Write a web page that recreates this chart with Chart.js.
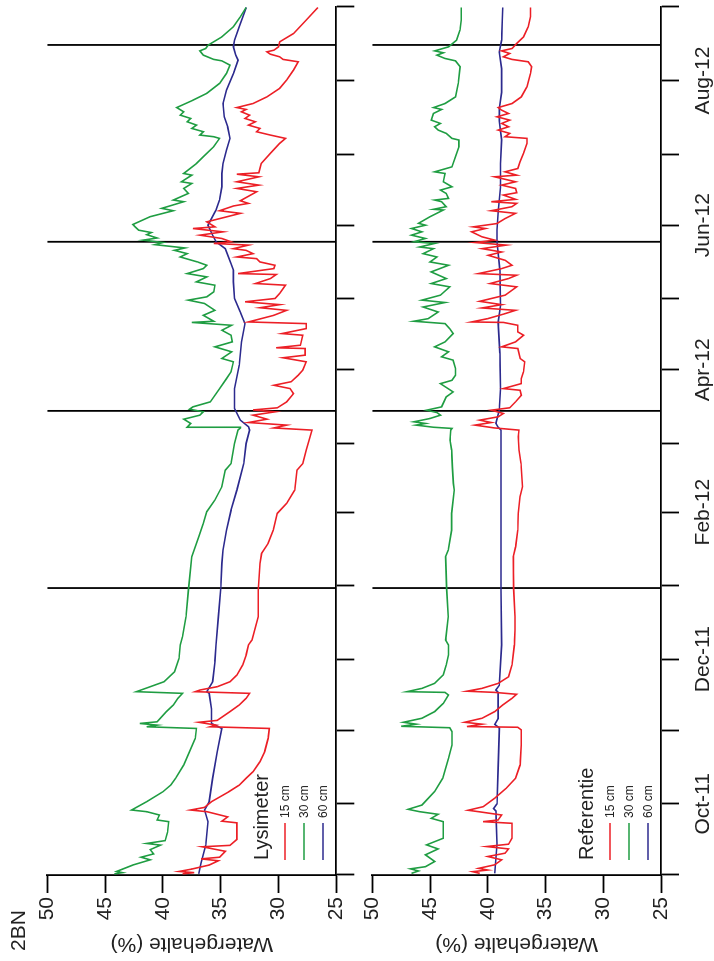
<!DOCTYPE html>
<html><head><meta charset="utf-8">
<script src="https://cdn.jsdelivr.net/npm/chart.js@4/dist/chart.umd.min.js"></script>
<style>
html,body{margin:0;padding:0;background:#fff;overflow:hidden;width:714px;height:961px;}
#rot{position:absolute;left:0;top:0;width:961px;height:714px;transform-origin:0 0;transform:translateY(961px) rotate(-90deg);background:#fff;}
#rot canvas{position:absolute;left:0;}
</style></head><body>
<div id="rot">
<canvas id="cA" width="961" height="355" style="top:0"></canvas>
<canvas id="cB" width="961" height="359" style="top:355px"></canvas>
</div>
<script>
// x values: days since 2011-09-01 ; y values: water content (%)
const MONTH_TICKS = [0,30,61,91,122,153,182,213,243,274,304,335,366];
const MONTH_LABELS = ['','Oct-11','','Dec-11','','Feb-12','','Apr-12','','Jun-12','','Aug-12',''];
const VALUE_TICKS = [50,45,40,35,30,25];
const MARKER_DAYS = [121,195.7,267,350];
const SERIES_LABELS = ['15 cm','30 cm','60 cm'];
const PANEL_TITLES = ['Lysimeter','Referentie'];

const LYS_15 = [[0.5,38.3],[1,37.3],[1.5,38.6],[2.5,37.5],[4.2,36.0],[6.0,35.2],[6.8,36.7],[7.5,35.1],[10.0,34.6],[11.9,36.6],[12.5,34.2],[15,33.6],[22,33.6],[22.7,34.9],[24.5,34.4],[26.7,36.2],[27.4,37.6],[28.5,36.4],[30.9,35.8],[35.1,34.3],[37.9,33.4],[40.8,32.8],[43.6,32.2],[47.8,31.6],[52,31.2],[57.6,30.9],[61.8,30.8],[62.5,35.9],[63.2,35.4],[64.4,36.9],[65.2,35.3],[68.9,34.2],[71.7,33.4],[74.5,32.8],[76.6,32.5],[77.3,37.2],[78,36.8],[79.4,35.3],[81.5,34.2],[84.3,33.6],[88.6,33.1],[92.8,32.8],[97,32.6],[99.1,32.3],[108.9,31.75],[120.1,31.75],[131.4,31.6],[135.6,31.46],[139.8,30.9],[145.4,30.45],[152.5,30.1],[156.7,29.3],[162.3,28.6],[170.7,28.4],[173.5,27.9],[179.2,27.6],[187.6,27.1],[188.5,30.4],[189.7,29.3],[190.8,32.6],[192.2,31.0],[193.9,32.2],[195.3,30.3],[196.1,32.2],[197,30.1],[199.5,29.3],[203,28.7],[205.1,29.0],[206.5,30.4],[208,28.9],[210.7,28.3],[212.9,27.9],[216.4,27.6],[218.1,29.6],[219.2,27.7],[222,27.7],[222.3,30.2],[223.4,28.1],[227.6,27.9],[228.3,29.7],[230.4,27.6],[232.5,27.6],[233.2,32.6],[236,30.4],[238.1,29.3],[239.2,31.6],[240.5,29.9],[241.7,32.9],[243.1,30.3],[245.2,29.9],[248.7,29.4],[249.4,32.0],[251.5,30.7],[253.2,30.2],[253.6,33.5],[255.7,30.4],[257.1,30.3],[258.5,31.6],[259.9,31.9],[260.6,33.6],[262,32.2],[263.4,32.8],[264.1,33.9],[265.6,32.6],[266.3,35.6],[267,34.1],[268.4,34.9],[269.8,36.8],[271.2,34.8],[272.6,37.4],[273.3,35.5],[275.4,36.2],[279,33.3],[280.1,35.1],[282.1,33.9],[283.2,32.6],[284.3,33.3],[288.1,31.9],[289.5,33.6],[290.9,31.7],[292.3,33.6],[294.4,31.7],[295.5,33.6],[296.1,31.7],[300,31.5],[304.3,30.7],[308.5,29.9],[310.6,29.4],[312,30.7],[313.4,31.9],[314.8,31.6],[316.2,32.6],[317.6,32.0],[319,32.9],[320.4,32.5],[321.8,33.2],[322.8,32.8],[323.6,33.6],[325.3,32.2],[328.1,31.0],[331.7,29.9],[335.2,29.3],[339.4,28.7],[342.9,28.3],[343.9,29.6],[345,29.9],[346.1,30.7],[347.1,31.0],[347.8,30.4],[349.2,30.0],[351.3,29.9],[354.8,28.7],[360.5,27.6],[365.8,26.6]];

const LYS_30 = [[0.5,44.2],[1,43.5],[1.5,44.0],[4.2,42.6],[6.4,41.1],[7.5,41.9],[8.9,40.8],[10.7,41.1],[12.6,40.2],[13.3,41.4],[14.5,39.8],[18,39.6],[22.5,39.5],[23.2,40.5],[25.3,40.3],[26.7,41.4],[27.4,42.7],[30.9,41.4],[35.1,40.0],[38,39.3],[40.8,38.9],[46.4,38.2],[52,37.7],[57.6,37.2],[61.8,37.1],[62.5,41.4],[63.2,40.5],[63.9,42.0],[64.6,40.5],[68.9,39.7],[71.7,39.1],[74.5,38.7],[76.6,38.3],[77.3,42.3],[79.4,41.1],[81.5,39.9],[85.7,39.0],[91.3,38.6],[97,38.5],[100.5,38.3],[108.9,38.0],[120,37.8],[134.2,37.5],[142.6,36.9],[148.2,36.5],[153.2,36.2],[158.1,35.5],[163.7,34.9],[170.7,34.6],[173.5,34.1],[182,33.8],[187.6,33.5],[188.5,33.3],[188.8,37.9],[190.4,37.6],[192.2,38.2],[193.9,36.8],[195.3,36.5],[196.4,37.7],[197.4,37.4],[199.5,35.9],[205.1,35.1],[209.3,34.5],[212.2,34.1],[216.4,33.9],[217.8,34.9],[220.6,34.05],[222.7,35.5],[224.8,34.0],[227.6,34.1],[229.7,34.9],[231.8,34.05],[233,37.5],[233.5,35.6],[236,36.5],[238.1,35.5],[241,36.4],[242.4,37.8],[243.8,36.2],[245.9,35.6],[248.7,35.5],[250.1,37.1],[252.2,36.2],[253.6,37.9],[255.7,36.5],[257.1,36.2],[258.5,37.0],[260.6,38.5],[262,37.9],[263.4,39.0],[264.4,38.1],[265.8,40.7],[266.7,40.0],[267.7,41.7],[268.6,40.5],[270,41.4],[270.9,41.0],[271.9,42.1],[273.3,42.4],[274.3,42.6],[277.6,41.1],[280.1,39.1],[281.1,40.1],[283.9,38.2],[284.6,39.1],[287.4,37.8],[289.5,38.2],[291.6,37.5],[292.3,38.4],[295.1,37.5],[295.8,38.2],[300,37.1],[302.9,36.5],[307.1,35.6],[310.6,35.1],[311.3,35.6],[312,36.8],[313.4,36.5],[314.8,37.5],[316.2,37.1],[317.6,37.9],[319,37.6],[320.4,38.5],[321.8,38.2],[323.6,38.8],[326.7,37.4],[329.6,36.2],[333.8,35.1],[338,34.5],[341.5,34.2],[343.3,34.9],[343.9,35.6],[345.7,36.5],[347.5,36.8],[348.5,36.3],[349.9,36.1],[353.4,34.9],[357.7,33.9],[361.9,33.3],[365.8,32.8]];

const LYS_60 = [[0.5,36.9],[5,36.7],[12.6,36.3],[22.5,36.1],[27.4,36.4],[30.9,36.0],[40.8,35.7],[52,35.3],[61.8,34.9],[63.9,35.8],[70,35.8],[76.6,36.0],[77.3,36.2],[81.5,35.7],[90,35.5],[97,35.4],[108.9,35.2],[120.8,35.0],[131.4,34.9],[137,34.8],[145.4,34.5],[153.9,34.1],[162.3,33.6],[173.5,33.0],[182,32.8],[187.6,32.5],[189,32.6],[191.8,33.3],[196.7,33.8],[205.1,33.8],[215,33.4],[224.8,33.2],[232.5,32.9],[237.4,33.3],[243.1,33.8],[250.1,33.9],[255,33.9],[257.8,34.1],[264.1,34.6],[267,35.4],[269.8,35.7],[274,36.1],[280.4,35.4],[284.6,35.1],[290.2,34.9],[295.8,34.9],[300,34.8],[305.7,34.5],[310.6,34.2],[315.5,34.4],[319.7,34.7],[325.3,34.8],[331,34.5],[338,33.9],[343.6,33.5],[345.7,33.7],[349.2,33.9],[352,33.8],[357.7,33.4],[365.8,32.8]];

const REF_15 = [[0.7,40.7],[1.4,41.3],[2.1,40.0],[2.8,40.8],[4.3,39.4],[6.4,38.8],[7.8,40.0],[9.2,38.5],[11,38.2],[12,40.1],[13,38.2],[15.5,37.9],[21.8,37.9],[22.5,40.4],[23.2,39.1],[25.3,38.8],[26.7,40.8],[27.3,41.7],[28.8,40.4],[32.4,39.4],[36.6,38.4],[40.8,37.6],[46.4,37.2],[54.8,37.1],[61.2,37.1],[62.3,37.4],[62.6,41.8],[63.6,40.5],[64.4,42.0],[66.1,40.5],[68.9,39.4],[71.7,38.7],[74.5,37.9],[76.2,37.5],[77,39.4],[77.5,41.8],[78.7,40.5],[80.8,39.1],[83.6,38.2],[88.6,37.9],[97,37.7],[103.3,37.64],[108.9,37.64],[120.8,37.76],[134.2,37.79],[138.4,37.59],[145.4,37.41],[152.5,37.36],[159.5,37.21],[163.7,37.0],[173.5,37.12],[179.2,37.3],[184.8,37.36],[187.6,37.3],[188.5,39.4],[189.7,41.1],[190.8,39.7],[191.8,40.7],[193.2,39.1],[194.6,38.65],[196,39.7],[197,38.1],[199.5,37.6],[202.3,37.1],[204.4,37.2],[205.1,38.65],[207.2,37.1],[209.3,37.1],[212.2,36.9],[216.4,36.8],[217.8,37.2],[222,37.4],[222.7,38.8],[224.8,37.6],[227.6,36.9],[229,37.4],[231.8,37.4],[233,38.65],[233.2,41.4],[234.6,40.0],[236.7,38.5],[238.1,37.6],[239.1,40.5],[240.5,38.8],[241.9,40.7],[244.5,38.5],[248,37.5],[249.4,39.8],[251.5,38.2],[252.9,37.5],[253.6,40.8],[255.7,38.8],[257.1,37.9],[259.2,38.5],[261.3,39.95],[262.7,38.8],[264.1,40.5],[265.6,38.4],[266.7,41.1],[267.7,39.4],[269.1,40.5],[271.2,41.4],[272.6,40.2],[273.3,41.25],[274.7,39.2],[276.8,38.5],[279,37.6],[280.1,39.7],[281.8,37.9],[283.2,37.5],[283.9,39.7],[284.9,37.6],[286.7,38.65],[287.7,37.5],[289.5,37.6],[290.9,38.8],[292.3,37.6],[294.4,39.4],[295.1,37.5],[296.5,38.5],[297.9,37.4],[300.7,37.2],[304.3,36.9],[308.5,36.6],[310.6,36.6],[311.3,38.5],[312.7,38.1],[314.1,39.1],[315.5,38.2],[316.9,38.8],[318.3,38.1],[319.7,39.2],[321.1,38.2],[322.5,38.8],[323.6,39.1],[325.3,37.9],[328.1,37.1],[332.4,36.6],[338,36.3],[340.8,36.2],[342.9,36.5],[343.9,37.9],[345,38.65],[346.4,38.1],[347.5,38.8],[348.5,37.9],[350.6,37.5],[353.4,36.9],[357.7,36.5],[361.9,36.3],[365.8,36.3]];

const REF_30 = [[0.7,46.6],[1.7,46.0],[2.6,46.7],[3.5,45.4],[5.7,44.6],[8.5,45.4],[11,44.3],[12.7,45.3],[15.5,43.85],[22.5,43.85],[23.9,44.9],[25.6,44.3],[26.7,45.9],[27.7,46.9],[29.5,45.7],[35.2,44.6],[40.8,43.9],[49.2,43.4],[54.8,43.1],[60.5,43.1],[62.1,43.3],[62.7,47.5],[63.6,46.2],[64.4,47.3],[66.1,45.7],[68.9,44.6],[72.4,43.85],[75.9,43.4],[77,43.7],[77.3,47.0],[78.7,45.7],[80.8,44.6],[84.4,43.85],[88.6,43.6],[92.8,43.4],[97,43.4],[99.1,43.65],[108.9,43.42],[120.8,43.56],[134.2,43.65],[137,43.42],[145.4,43.13],[152.5,43.13],[162.3,42.9],[165.1,42.98],[172.1,43.07],[179.2,43.13],[183.4,43.27],[187.6,43.2],[188.3,43.1],[188.8,44.7],[189.7,46.2],[190.4,45.4],[191.1,46.4],[192.5,45.0],[193.9,44.1],[195,44.4],[196,45.3],[197.4,44.0],[201.6,43.6],[203.7,43.0],[207.2,44.1],[208.6,43.1],[210.7,42.8],[213.6,42.8],[217.1,43.0],[218.5,44.0],[220.6,43.4],[222.7,44.6],[224.8,43.7],[228.3,43.0],[230.4,43.3],[232.5,43.7],[233.5,46.4],[234.6,45.15],[237.4,44.3],[239.5,45.6],[241.4,43.7],[242.4,45.7],[244.5,44.1],[248,43.3],[249.4,44.9],[251.5,43.6],[254.3,44.9],[257.1,43.4],[258.5,45.0],[260.6,44.4],[262,45.6],[264.1,44.7],[264.8,45.9],[266.3,44.6],[267,46.4],[268.4,45.4],[269.8,46.6],[271.2,45.7],[272.6,46.6],[274,45.4],[274.8,46.0],[277.6,45.0],[280.4,43.85],[280.7,44.7],[281.8,43.6],[283.9,44.0],[284.6,44.6],[285.3,43.4],[287.4,43.6],[288.8,44.1],[290.2,43.1],[292.3,43.85],[295.8,43.7],[296.5,44.6],[298.6,43.1],[302.9,42.8],[307.1,42.5],[309.9,42.5],[310.6,43.1],[312.7,43.6],[314.1,44.3],[315.5,44.6],[316.9,44.1],[318.3,44.9],[321.1,44.7],[322.8,44.0],[323.6,44.7],[325.3,43.7],[328.1,42.8],[333.8,42.55],[340.8,42.4],[343.3,42.8],[344.3,43.7],[345.7,44.4],[346.7,43.85],[347.5,44.6],[349.2,43.4],[352,42.7],[356.3,42.4],[360.5,42.3],[365.8,42.3]];

const REF_60 = [[0.7,39.4],[13,39.2],[27,39.3],[28,39.5],[30,39.2],[45,39.1],[62,39.0],[63.5,39.4],[66,39.1],[77,39.1],[78,39.3],[80,39.0],[97,38.8],[120,38.85],[150,38.85],[187.6,38.85],[188.8,39.1],[190.5,39.3],[196,39.0],[205,38.9],[220,38.95],[233,39.1],[240,38.9],[255,38.95],[267,39.2],[272,39.2],[280,39.1],[290,38.9],[300,38.9],[310,38.8],[318,39.0],[323,39.0],[330,38.8],[340,38.8],[347,39.0],[352,38.8],[360,38.75],[365.8,38.7]];

const COLORS = ['#ec1f26','#1f9d42','#2c2a8e'];
const FONT = "'Liberation Sans', Arial, Helvetica, sans-serif";
const TEXT = '#222';

const panelText = {
  id: 'panelText',
  afterDraw(chart, args, o) {
    const ctx = chart.ctx, ca = chart.chartArea;
    ctx.save();
    ctx.fillStyle = TEXT;
    ctx.textBaseline = 'alphabetic';
    ctx.textAlign = 'left';
    ctx.font = '20px ' + FONT;
    ctx.fillText(o.title, ca.left + 15, ca.top + 220.5);
    SERIES_LABELS.forEach((lab, i) => {
      const y = ca.top + 237.7 + 19 * i;
      ctx.strokeStyle = COLORS[i];
      ctx.lineWidth = 1.5;
      ctx.beginPath(); ctx.moveTo(ca.left + 15, y); ctx.lineTo(ca.left + 52, y); ctx.stroke();
      ctx.font = '12px ' + FONT;
      ctx.fillText(lab, ca.left + 57, y + 4.3);
    });
    if (o.corner) { ctx.font = '21px ' + FONT; ctx.fillText(o.corner, 10, 25); }
    ctx.restore();
  }
};

function axisGrid() {
  return { display: true, drawOnChartArea: false, drawTicks: true, tickLength: 18, tickWidth: 1.8, tickColor: '#000', color: '#000' };
}

function makeChart(canvasId, seriesList, title, cfg) {
  const datasets = [];
  seriesList.forEach((s, i) => datasets.push({
    data: s.map(p => ({x: p[0], y: p[1]})), borderColor: COLORS[i], borderWidth: 1.6,
    pointRadius: 0, tension: 0, fill: false, order: 1
  }));
  MARKER_DAYS.forEach(d => datasets.push({
    data: [{x: d, y: 25}, {x: d, y: 50}], borderColor: '#000', borderWidth: 1.8,
    pointRadius: 0, fill: false, order: 2
  }));
  return new Chart(document.getElementById(canvasId), {
    type: 'line',
    data: { datasets },
    plugins: [panelText],
    options: {
      responsive: false, animation: false, devicePixelRatio: 1,
      layout: { padding: { top: cfg.top, right: 7, bottom: 0, left: 0 }, autoPadding: false },
      plugins: { legend: { display: false }, tooltip: { enabled: false },
                 panelText: { title: title, corner: cfg.corner } },
      scales: {
        x: {
          type: 'linear', position: 'bottom', min: 0, max: 366,
          afterBuildTicks: s => { s.ticks = MONTH_TICKS.map(v => ({ value: v })); },
          afterFit: s => { s.height = cfg.xh; s.paddingLeft = 0; s.paddingRight = 0; },
          grid: axisGrid(),
          border: { display: true, color: '#000', width: 1.8 },
          ticks: { display: cfg.xlabels, autoSkip: false, maxRotation: 0, minRotation: 0, padding: 12,
                   color: TEXT, font: { family: FONT, size: 21 },
                   callback: (v, i) => MONTH_LABELS[i] }
        },
        y: {
          type: 'linear', position: 'left', min: 25, max: 50,
          afterBuildTicks: s => { s.ticks = VALUE_TICKS.map(v => ({ value: v })); },
          afterFit: s => { s.width = 86; s.paddingTop = 0; s.paddingBottom = 0; },
          grid: axisGrid(),
          border: { display: true, color: '#000', width: 1.8 },
          ticks: { padding: 4, color: TEXT, font: { family: FONT, size: 21 }, callback: v => String(v) },
          title: { display: true, text: 'Watergehalte (%)', color: TEXT, font: { family: FONT, size: 21 },
                   padding: { top: 5, bottom: 0 } }
        }
      }
    }
  });
}

makeChart('cA', [LYS_15, LYS_30, LYS_60], PANEL_TITLES[0], { top: 47.3, xh: 18.7, xlabels: false, corner: '2BN' });
makeChart('cB', [REF_15, REF_30, REF_60], PANEL_TITLES[1], { top: 17.3, xh: 53, xlabels: true, corner: null });
</script>
</body></html>
